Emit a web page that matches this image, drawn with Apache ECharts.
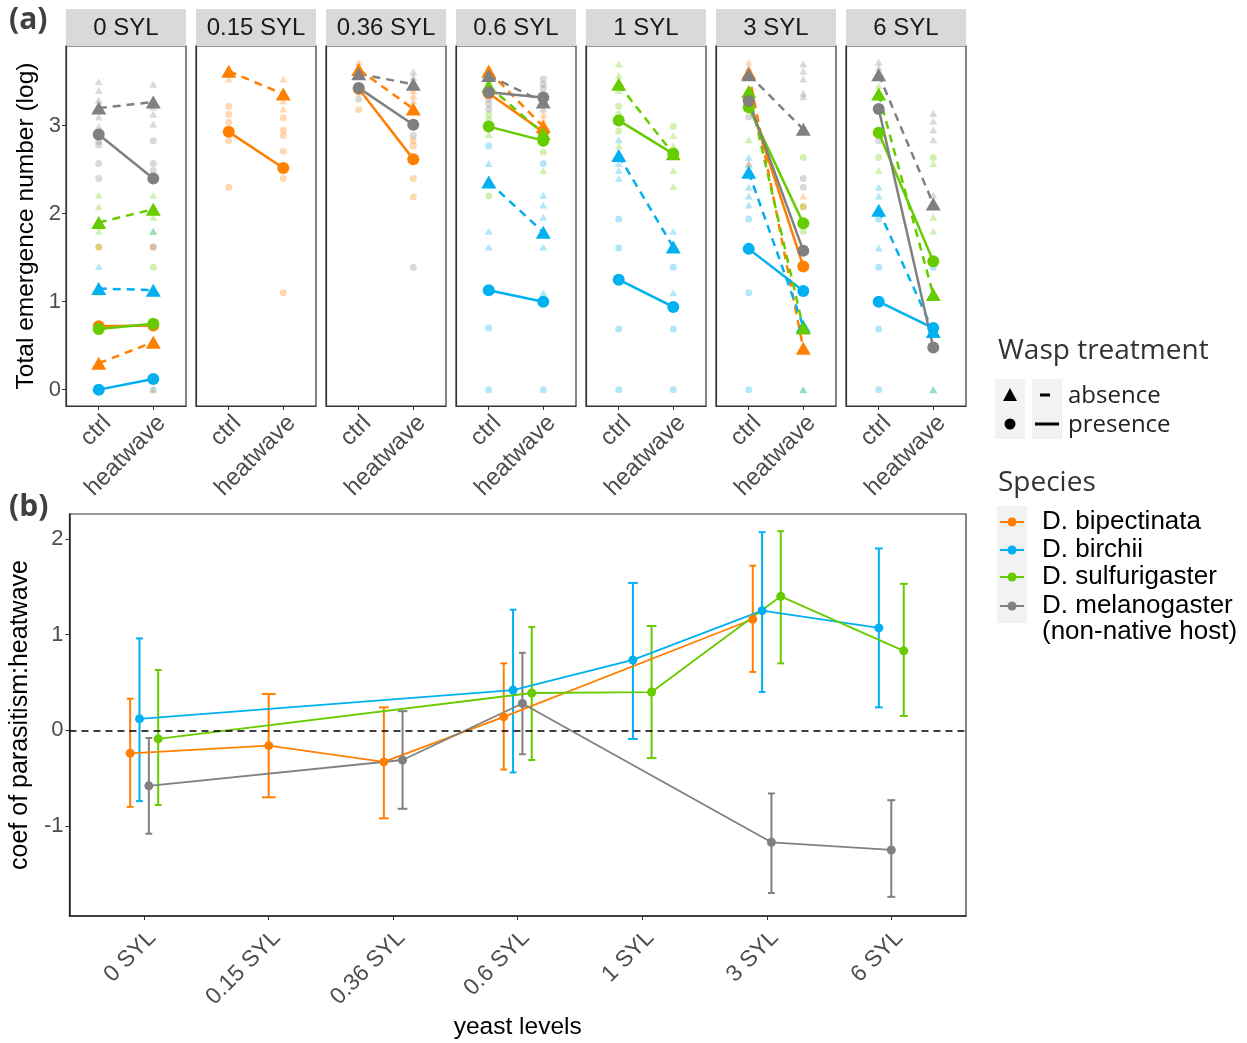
<!DOCTYPE html>
<html>
<head>
<meta charset="utf-8">
<script src="https://cdn.jsdelivr.net/npm/echarts@6/dist/echarts.min.js"></script>
<style>
html, body { margin: 0; padding: 0; background: #fff; }
#chart { width: 1247px; height: 1043px; }
</style>
</head>
<body>
<div id="chart"></div>
<script>
// ---- data ----
var facets = ['0 SYL', '0.15 SYL', '0.36 SYL', '0.6 SYL', '1 SYL', '3 SYL', '6 SYL'];
var conditions = ['ctrl', 'heatwave'];
var speciesNames = ['D. bipectinata', 'D. birchii', 'D. sulfurigaster', 'D. melanogaster'];
var speciesColors = ['#FF8000', '#00B0F0', '#66CC00', '#808080'];

// (a) mean log emergence, [ctrl, heatwave] per yeast level, null = not tested
var bipAbsence  = [[0.30, 0.54], [3.62, 3.36], [3.64, 3.19], [3.62, 2.99], null, [3.60, 0.47], null];
var bipPresence = [[0.72, 0.73], [2.93, 2.52], [3.42, 2.62], [3.37, 2.93], null, [3.30, 1.40], null];
var birAbsence  = [[1.15, 1.13], null, null, [2.36, 1.79], [2.66, 1.62], [2.47, 0.72], [2.04, 0.66]];
var birPresence = [[0.00, 0.12], null, null, [1.13, 1.00], [1.25, 0.94], [1.60, 1.12], [1.00, 0.70]];
var sulAbsence  = [[1.90, 2.05], null, null, [3.45, 2.91], [3.47, 2.68], [3.39, 0.70], [3.36, 1.08]];
var sulPresence = [[0.69, 0.75], null, null, [2.99, 2.83], [3.06, 2.68], [3.21, 1.89], [2.92, 1.46]];
var melAbsence  = [[3.20, 3.27], null, [3.59, 3.47], [3.57, 3.27], null, [3.58, 2.96], [3.58, 2.11]];
var melPresence = [[2.90, 2.40], null, [3.43, 3.01], [3.38, 3.32], null, [3.28, 1.58], [3.19, 0.48]];

// (a) replicate values: [condition, species, wasp (0 absence, 1 presence), value]
var raw0 = [[0,3,0,3.50],[0,3,0,3.40],[0,3,0,3.29],[0,3,0,3.10],[0,3,0,2.99],[0,3,1,2.87],[0,3,1,2.82],[0,3,1,2.78],
  [0,3,1,2.57],[0,3,1,2.40],[0,2,0,2.21],[0,2,0,2.08],[0,2,0,1.80],[0,2,1,1.62],[0,0,1,1.62],[0,1,0,1.40],[0,2,0,1.10],
  [0,1,1,0.0],[0,0,1,0.0],
  [1,3,0,3.47],[1,3,0,3.28],[1,3,0,3.21],[1,3,0,3.13],[1,3,0,3.02],[1,3,1,2.83],[1,3,1,2.57],[1,3,1,2.49],[1,2,0,2.21],
  [1,2,0,1.96],[1,1,0,1.80],[1,2,0,1.80],[1,0,1,1.62],[1,3,1,1.62],[1,2,1,1.39],[1,1,1,0.0],[1,0,0,0.0]];
var raw1 = [[0,0,0,3.53],[0,0,0,3.60],[0,0,1,3.22],[0,0,1,3.13],[0,0,1,3.04],[0,0,1,2.83],[0,0,1,2.30],
  [1,0,0,3.53],[1,0,0,3.28],[1,0,0,3.19],[1,0,1,3.09],[1,0,1,2.95],[1,0,1,2.89],[1,0,1,2.71],[1,0,1,2.40],[1,0,1,1.10]];
var raw2 = [[0,0,0,3.72],[0,0,0,3.66],[0,3,0,3.62],[0,3,1,3.30],[0,0,1,3.18],[0,3,1,3.38],
  [1,3,0,3.61],[1,3,0,3.55],[1,3,0,3.50],[1,0,0,3.34],[1,0,0,3.28],[1,0,0,3.40],[1,3,1,2.89],[1,0,1,2.83],[1,0,1,2.77],
  [1,0,1,2.40],[1,0,1,2.19],[1,3,1,1.39]];
var raw3 = [[0,0,0,3.66],[0,3,0,3.57],[0,2,0,3.52],[0,3,1,3.30],[0,3,1,3.25],[0,3,1,3.19],[0,2,1,3.13],[0,2,1,3.07],
  [0,2,0,2.90],[0,1,1,2.77],[0,1,0,2.57],[0,2,1,2.20],[0,1,0,1.80],[0,1,0,1.62],[0,1,1,0.70],[0,1,1,0.0],
  [1,3,1,3.53],[1,3,1,3.47],[1,3,1,3.42],[1,3,0,3.19],[1,0,0,3.13],[1,0,0,3.07],[1,2,0,2.90],[1,2,1,2.70],[1,1,1,2.57],
  [1,2,0,2.49],[1,1,0,2.21],[1,1,0,2.10],[1,1,0,1.96],[1,1,0,1.62],[1,1,0,1.10],[1,1,1,0.0]];
var raw4 = [[0,2,0,3.70],[0,2,0,3.57],[0,2,0,3.40],[0,2,1,3.22],[0,2,1,3.13],[0,2,1,2.94],[0,1,0,2.84],[0,2,0,2.77],
  [0,1,0,2.57],[0,1,0,2.49],[0,1,0,2.40],[0,1,1,1.94],[0,1,1,1.61],[0,1,1,0.69],[0,1,1,0.0],
  [1,2,1,2.99],[1,2,0,2.89],[1,2,0,2.77],[1,2,0,2.49],[1,2,0,2.31],[1,1,0,1.80],[1,1,1,1.39],[1,1,0,1.10],[1,1,1,0.69],[1,1,1,0.0]];
var raw5 = [[0,0,0,3.72],[0,3,0,3.66],[0,3,1,3.10],[0,2,0,2.84],[0,1,0,2.64],[0,1,0,2.56],[0,0,0,2.57],[0,1,0,2.30],
  [0,1,0,2.20],[0,1,0,2.10],[0,1,1,1.94],[0,1,1,1.10],[0,1,1,0.0],
  [1,3,0,3.70],[1,3,0,3.62],[1,3,0,3.53],[1,3,0,3.37],[1,3,0,3.33],[1,2,1,2.64],[1,3,1,2.40],[1,3,1,2.30],[1,0,0,2.20],
  [1,2,1,2.08],[1,0,1,2.08],[1,2,1,1.80],[1,2,0,0.0],[1,1,0,0.0]];
var raw6 = [[0,3,0,3.72],[0,3,0,3.66],[0,2,0,3.45],[0,3,1,2.83],[0,2,1,2.64],[0,2,0,2.49],[0,1,0,2.30],[0,1,0,2.20],
  [0,1,1,1.94],[0,1,0,1.61],[0,1,1,1.39],[0,1,1,0.69],[0,1,1,0.0],
  [1,3,0,3.14],[1,3,0,3.05],[1,3,0,2.95],[1,3,0,2.84],[1,2,1,2.64],[1,2,0,2.57],[1,3,0,2.21],[1,2,0,1.96],[1,2,0,1.80],
  [1,1,1,1.39],[1,2,0,0.0],[1,1,0,0.0]];
var rawByFacet = [raw0, raw1, raw2, raw3, raw4, raw5, raw6];

// (b) coefficient of parasitism:heatwave with interval, per yeast level
var bipCoef = [-0.24, -0.16, -0.33, 0.14, null, 1.16, null];
var bipLow  = [-0.80, -0.70, -0.92, -0.41, null, 0.61, null];
var bipHigh = [0.33, 0.38, 0.24, 0.70, null, 1.72, null];
var birCoef = [0.12, null, null, 0.42, 0.735, 1.25, 1.07];
var birLow  = [-0.74, null, null, -0.44, -0.09, 0.40, 0.24];
var birHigh = [0.96, null, null, 1.26, 1.54, 2.07, 1.90];
var sulCoef = [-0.09, null, null, 0.39, 0.40, 1.40, 0.83];
var sulLow  = [-0.78, null, null, -0.31, -0.29, 0.70, 0.15];
var sulHigh = [0.63, null, null, 1.08, 1.09, 2.08, 1.53];
var melCoef = [-0.58, null, -0.31, 0.28, null, -1.17, -1.25];
var melLow  = [-1.08, null, -0.82, -0.25, null, -1.70, -1.74];
var melHigh = [-0.08, null, 0.20, 0.81, null, -0.66, -0.73];

// ---- layout ----
var FONT = 'Liberation Sans';
var LFONT = 'Open Sans';
var chart = echarts.init(document.getElementById('chart'));

var grids = [], xAxes = [], yAxes = [], series = [], graphics = [];
var axisLine = { show: true, onZero: false, lineStyle: { color: '#333', width: 1.2 } };

for (var f = 0; f < facets.length; f++) {
    var left = 66 + 130 * f;
    grids.push({ left: left, top: 46, width: 120, height: 360, show: true, borderColor: '#333', borderWidth: 1.2 });
    xAxes.push({
        gridIndex: f, type: 'value', min: -0.6, max: 1.6,
        axisLine: axisLine,
        axisTick: { show: true, customValues: [0, 1], length: 4, lineStyle: { color: '#333' } },
        axisLabel: {
            customValues: [0, 1], rotate: 45, margin: 5, fontSize: 24, color: '#4d4d4d', fontFamily: FONT,
            align: 'right', verticalAlign: 'top',
            formatter: function (v) { return conditions[Math.round(v)]; }
        },
        splitLine: { show: false }
    });
    yAxes.push({
        gridIndex: f, type: 'value', min: -0.186, max: 3.906,
        axisLine: axisLine,
        axisTick: { show: f === 0, customValues: [0, 1, 2, 3], length: 4, lineStyle: { color: '#333' } },
        axisLabel: { show: f === 0, customValues: [0, 1, 2, 3], margin: 5, fontSize: 22, color: '#4d4d4d', fontFamily: FONT },
        splitLine: { show: false },
        name: f === 0 ? 'Total emergence number (log)' : '',
        nameLocation: 'middle', nameGap: 27,
        nameTextStyle: { fontSize: 24.5, color: '#000', fontFamily: FONT }
    });
    // strip header
    graphics.push({ type: 'rect', shape: { x: left, y: 9, width: 120, height: 37 }, style: { fill: '#d9d9d9' } });
    graphics.push({ type: 'text', x: left + 60, y: 28, style: { text: facets[f], fontSize: 24, fontFamily: FONT, fill: '#1a1a1a', align: 'center', verticalAlign: 'middle' } });

    // faint replicate points
    series.push({
        type: 'scatter', xAxisIndex: f, yAxisIndex: f, z: 2, silent: true,
        data: rawByFacet[f].map(function (r) {
            return {
                value: [r[0], r[3]],
                symbol: r[2] === 0 ? 'triangle' : 'circle',
                symbolSize: r[2] === 0 ? [8, 7] : 7,
                itemStyle: { color: speciesColors[r[1]], opacity: 0.3 }
            };
        })
    });
}

var meanSets = [
    { sp: 0, wasp: 0, vals: bipAbsence }, { sp: 0, wasp: 1, vals: bipPresence },
    { sp: 1, wasp: 0, vals: birAbsence }, { sp: 1, wasp: 1, vals: birPresence },
    { sp: 2, wasp: 0, vals: sulAbsence }, { sp: 2, wasp: 1, vals: sulPresence },
    { sp: 3, wasp: 0, vals: melAbsence }, { sp: 3, wasp: 1, vals: melPresence }
];
meanSets.forEach(function (m) {
    var col = speciesColors[m.sp];
    for (var f = 0; f < facets.length; f++) {
        if (!m.vals[f]) continue;
        series.push({
            type: 'line', xAxisIndex: f, yAxisIndex: f, z: 3, silent: true,
            data: [[0, m.vals[f][0]], [1, m.vals[f][1]]],
            symbol: m.wasp === 0 ? 'triangle' : 'circle',
            symbolSize: m.wasp === 0 ? [15, 13] : 12,
            itemStyle: { color: col, opacity: 1 },
            lineStyle: { color: col, width: 2.5, type: m.wasp === 0 ? [8, 6] : 'solid' }
        });
    }
});

// ---- panel (b) ----
var B = facets.length;
grids.push({ left: 69, top: 514, width: 897, height: 402, show: true, borderColor: '#333', borderWidth: 1.2 });
xAxes.push({
    gridIndex: B, type: 'value', min: -0.6, max: 6.6,
    axisLine: { show: true, onZero: false, lineStyle: { color: '#222', width: 1.5 } },
    axisTick: { show: true, customValues: [0, 1, 2, 3, 4, 5, 6], length: 4, lineStyle: { color: '#333' } },
    axisLabel: {
        customValues: [0, 1, 2, 3, 4, 5, 6], rotate: 45, margin: 10, fontSize: 23, color: '#4d4d4d', fontFamily: FONT,
        align: 'right', verticalAlign: 'top',
        formatter: function (v) { return facets[Math.round(v)]; }
    },
    splitLine: { show: false },
    name: 'yeast levels', nameLocation: 'middle', nameGap: 99,
    nameTextStyle: { fontSize: 24.5, color: '#000', fontFamily: FONT }
});
yAxes.push({
    gridIndex: B, type: 'value', min: -1.94, max: 2.26,
    axisLine: { show: true, onZero: false, lineStyle: { color: '#222', width: 1.5 } },
    axisTick: { show: true, customValues: [-1, 0, 1, 2], length: 4, lineStyle: { color: '#333' } },
    axisLabel: { customValues: [-1, 0, 1, 2], margin: 6, fontSize: 22, color: '#4d4d4d', fontFamily: FONT },
    splitLine: { show: false },
    name: 'coef of parasitism:heatwave', nameLocation: 'middle', nameGap: 34,
    nameTextStyle: { fontSize: 25, color: '#000', fontFamily: FONT }
});

var coefSets = [
    { sp: 0, c: bipCoef, lo: bipLow, hi: bipHigh },
    { sp: 1, c: birCoef, lo: birLow, hi: birHigh },
    { sp: 2, c: sulCoef, lo: sulLow, hi: sulHigh },
    { sp: 3, c: melCoef, lo: melLow, hi: melHigh }
];
// dodge order follows alphabetical species factor: bipectinata, birchii, melanogaster, sulfurigaster
var dodgeOrder = [0, 1, 3, 2];
var dodgeWidth = 0.3;
function dodge(sp, lvl) {
    var present = dodgeOrder.filter(function (s) { return coefSets[s].c[lvl] !== null; });
    var n = present.length, k = present.indexOf(sp);
    return { x: lvl - dodgeWidth / 2 + dodgeWidth / n * (k + 0.5), cap: 0.11 / Math.sqrt(n) / 2 };
}

coefSets.forEach(function (s, i) {
    var col = speciesColors[s.sp];
    var pts = [], bars = [];
    for (var l = 0; l < facets.length; l++) {
        if (s.c[l] === null) continue;
        var d = dodge(s.sp, l);
        pts.push([d.x, s.c[l]]);
        bars.push([d.x, s.lo[l], s.hi[l], d.cap]);
    }
    series.push({
        type: 'custom', xAxisIndex: B, yAxisIndex: B, z: 2, silent: true,
        data: bars,
        encode: { x: 0, y: [1, 2] },
        renderItem: function (params, api) {
            var x = api.value(0), lo = api.value(1), hi = api.value(2), cap = api.value(3);
            var top = api.coord([x, hi]), bot = api.coord([x, lo]);
            var tl = api.coord([x - cap, hi]), tr = api.coord([x + cap, hi]);
            var bl = api.coord([x - cap, lo]), br = api.coord([x + cap, lo]);
            var st = { stroke: col, lineWidth: 2 };
            return {
                type: 'group', children: [
                    { type: 'line', shape: { x1: top[0], y1: top[1], x2: bot[0], y2: bot[1] }, style: st },
                    { type: 'line', shape: { x1: tl[0], y1: tl[1], x2: tr[0], y2: tr[1] }, style: st },
                    { type: 'line', shape: { x1: bl[0], y1: bl[1], x2: br[0], y2: br[1] }, style: st }
                ]
            };
        }
    });
    var line = {
        type: 'line', xAxisIndex: B, yAxisIndex: B, z: 3, silent: true,
        data: pts, symbol: 'circle', symbolSize: 9,
        itemStyle: { color: col },
        lineStyle: { color: col, width: 1.8 }
    };
    if (i === 0) {
        line.markLine = {
            silent: true, symbol: 'none', label: { show: false },
            lineStyle: { color: '#000', type: [7, 5], width: 1.5 },
            data: [{ yAxis: 0 }]
        };
    }
    series.push(line);
});

// ---- panel tags and legends ----
graphics.push({ type: 'text', x: 9, y: 5, style: { text: '(a)', fontSize: 30, fontWeight: 'bold', fontFamily: LFONT, fill: '#404040' } });
graphics.push({ type: 'text', x: 9, y: 492, style: { text: '(b)', fontSize: 30, fontWeight: 'bold', fontFamily: LFONT, fill: '#404040' } });

graphics.push({ type: 'text', x: 998, y: 351, style: { text: 'Wasp treatment', fontSize: 28, fontFamily: LFONT, fill: '#333', verticalAlign: 'middle' } });
graphics.push({ type: 'rect', shape: { x: 995, y: 379, width: 30, height: 60 }, style: { fill: '#f2f2f2' } });
graphics.push({ type: 'rect', shape: { x: 1032, y: 379, width: 30, height: 60 }, style: { fill: '#f2f2f2' } });
graphics.push({ type: 'polygon', shape: { points: [[1010, 388], [1003, 401], [1017, 401]] }, style: { fill: '#000' } });
graphics.push({ type: 'circle', shape: { cx: 1010, cy: 424, r: 5.5 }, style: { fill: '#000' } });
graphics.push({ type: 'line', shape: { x1: 1040, y1: 395, x2: 1050, y2: 395 }, style: { stroke: '#000', lineWidth: 3 } });
graphics.push({ type: 'line', shape: { x1: 1035, y1: 424, x2: 1059, y2: 424 }, style: { stroke: '#000', lineWidth: 3 } });
graphics.push({ type: 'text', x: 1068, y: 396, style: { text: 'absence', fontSize: 24, fontFamily: LFONT, fill: '#222', verticalAlign: 'middle' } });
graphics.push({ type: 'text', x: 1068, y: 425, style: { text: 'presence', fontSize: 24, fontFamily: LFONT, fill: '#222', verticalAlign: 'middle' } });

graphics.push({ type: 'text', x: 998, y: 483, style: { text: 'Species', fontSize: 28, fontFamily: LFONT, fill: '#333', verticalAlign: 'middle' } });
graphics.push({ type: 'rect', shape: { x: 997, y: 506, width: 30, height: 117 }, style: { fill: '#f2f2f2' } });
var keyY = [522, 550, 577, 606];
for (var s = 0; s < speciesNames.length; s++) {
    graphics.push({ type: 'line', shape: { x1: 1000, y1: keyY[s], x2: 1024, y2: keyY[s] }, style: { stroke: speciesColors[s], lineWidth: 2 } });
    graphics.push({ type: 'circle', shape: { cx: 1012, cy: keyY[s], r: 4.5 }, style: { fill: speciesColors[s] } });
    graphics.push({ type: 'text', x: 1042, y: keyY[s], style: { text: speciesNames[s], fontSize: 26, fontFamily: FONT, fill: '#000', verticalAlign: 'middle' } });
}
graphics.push({ type: 'text', x: 1042, y: 632, style: { text: '(non-native host)', fontSize: 26, fontFamily: FONT, fill: '#000', verticalAlign: 'middle' } });

chart.setOption({
    animation: false,
    backgroundColor: '#fff',
    grid: grids,
    xAxis: xAxes,
    yAxis: yAxes,
    series: series,
    graphic: graphics
});
</script>
</body>
</html>
